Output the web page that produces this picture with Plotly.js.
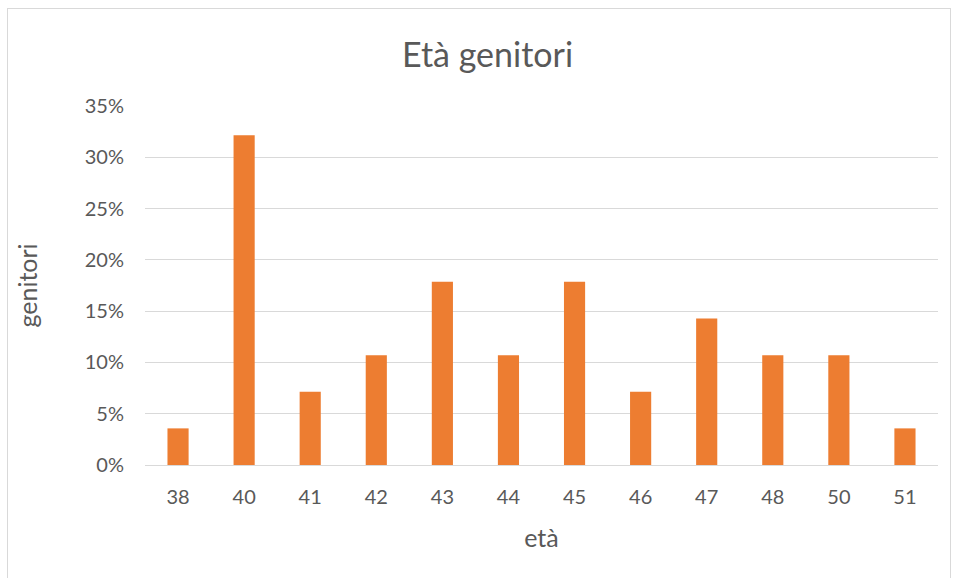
<!DOCTYPE html>
<html>
<head>
<meta charset="utf-8">
<script src="https://cdn.plot.ly/plotly-3.0.1.min.js"></script>
<style>
html,body{margin:0;padding:0;background:#fff;}
#wrap{position:relative;width:956px;height:578px;}
#chart{width:956px;height:578px;}
#frame{position:absolute;left:7px;top:8px;width:942px;height:575px;border:1px solid #d9d9d9;pointer-events:none;}
</style>
</head>
<body>
<div id="wrap"><div id="chart"></div><div id="frame"></div></div>
<script>
const categories = ["38","40","41","42","43","44","45","46","47","48","50","51"];
const values = [0.0357,0.3214,0.0714,0.1071,0.1786,0.1071,0.1786,0.0714,0.1429,0.1071,0.1071,0.0357];
const yTicks = [0,0.05,0.10,0.15,0.20,0.25,0.30,0.35];
const yTickLabels = ["0%","5%","10%","15%","20%","25%","30%","35%"];

const font = "Lato, 'Open Sans', sans-serif";
Plotly.newPlot('chart', [{
  type: 'bar',
  x: categories,
  y: values,
  marker: {color: '#ed7d31'},
  hoverinfo: 'none'
}], {
  width: 956, height: 578,
  margin: {l: 145, r: 18, t: 106, b: 113},
  paper_bgcolor: '#fff', plot_bgcolor: '#fff',
  bargap: 0.68,
  showlegend: false,
  title: {text: 'Età genitori', font: {family: font, size: 34, color: '#595959'}, x: 0.51, xref: 'container', y: 0.905, yanchor: 'middle'},
  xaxis: {
    type: 'category',
    tickfont: {family: font, size: 20, color: '#595959'},
    ticks: '', showgrid: false, zeroline: false,
    showline: true, linecolor: '#d9d9d9', linewidth: 1,
    ticklabelstandoff: 14,
    title: {text: 'età', font: {family: font, size: 25, color: '#595959'}, standoff: 22}
  },
  yaxis: {
    range: [0, 0.35],
    tickvals: yTicks, ticktext: yTickLabels,
    tickfont: {family: font, size: 20, color: '#595959'},
    ticks: '', gridcolor: '#d9d9d9', gridwidth: 1, zeroline: false,
    ticklabelstandoff: 20,
    title: {text: 'genitori', font: {family: font, size: 25, color: '#595959'}, standoff: 40}
  }
}, {displayModeBar: false, staticPlot: true});
</script>
</body>
</html>
